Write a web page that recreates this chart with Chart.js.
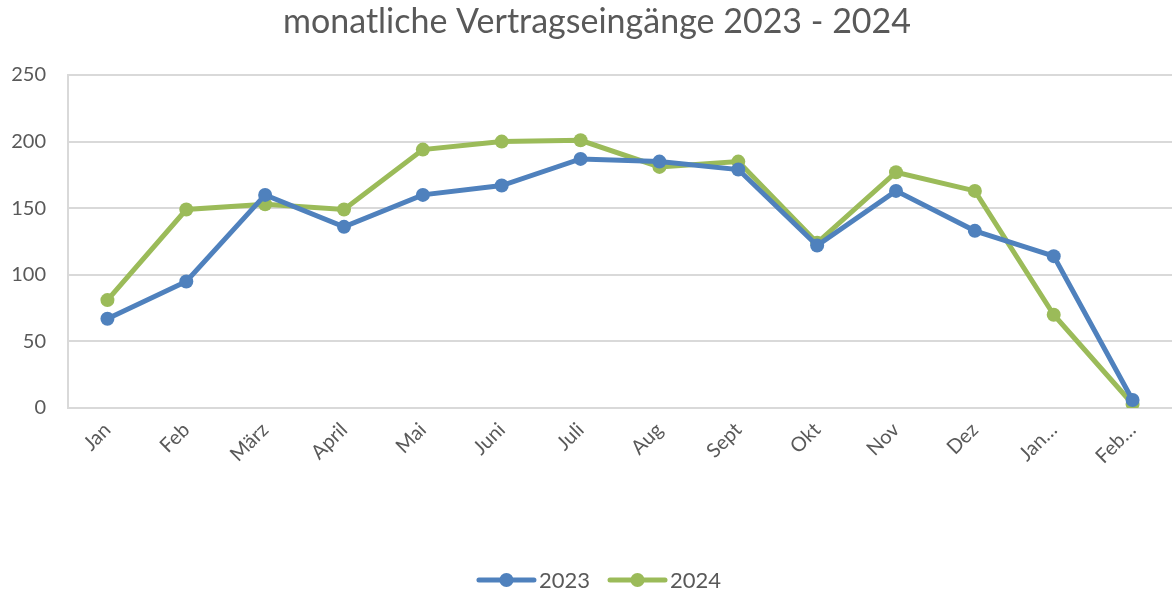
<!DOCTYPE html>
<html>
<head>
<meta charset="utf-8">
<script src="https://cdn.jsdelivr.net/npm/chart.js@4"></script>
<style>
  html, body { margin: 0; padding: 0; background: #fff; }
  #wrap { width: 1174px; height: 591px; }
</style>
</head>
<body>
<div id="wrap"><canvas id="chart"></canvas></div>
<script>
const titel = "monatliche Vertragseingänge 2023 - 2024";
const monate = ["Jan", "Feb", "März", "April", "Mai", "Juni", "Juli", "Aug", "Sept", "Okt", "Nov", "Dez", "Jan…", "Feb…"];
const werte2023 = [67, 95, 160, 136, 160, 167, 187, 185, 179, 122, 163, 133, 114, 6];
const werte2024 = [81, 149, 153, 149, 194, 200, 201, 181, 185, 124, 177, 163, 70, 3];
const yTicks = [0, 50, 100, 150, 200, 250];

const BLAU = "#4f81bd";
const GRUEN = "#9bbb59";
const GRAU = "#d9d9d9";
const TEXT = "#595959";
const FONT = "Lato, 'Open Sans', sans-serif";

// Titel und Legende wie in Excel (Legende: Linie mit Punkt in der Mitte)
const excelPlugin = {
  id: "excelDeko",
  afterDraw(chart) {
    const ctx = chart.ctx;
    ctx.save();
    ctx.fillStyle = TEXT;
    ctx.font = "34px " + FONT;
    ctx.textAlign = "center";
    ctx.textBaseline = "middle";
    ctx.fillText(titel, 597, 22);

    const y = 580;
    const eintraege = chart.data.datasets.map((ds) => ({ label: ds.label, farbe: ds.borderColor }));
    ctx.font = "22px " + FONT;
    const linie = 55, abstand = 5, luecke = 20;
    let gesamt = 0;
    eintraege.forEach((e, i) => {
      gesamt += linie + abstand + ctx.measureText(e.label).width + (i < eintraege.length - 1 ? luecke : 0);
    });
    let x = 600 - gesamt / 2;
    eintraege.forEach((e) => {
      ctx.strokeStyle = e.farbe;
      ctx.lineWidth = 5;
      ctx.lineCap = "round";
      ctx.beginPath();
      ctx.moveTo(x, y);
      ctx.lineTo(x + linie, y);
      ctx.stroke();
      ctx.fillStyle = e.farbe;
      ctx.beginPath();
      ctx.arc(x + linie / 2, y, 7, 0, Math.PI * 2);
      ctx.fill();
      x += linie + abstand;
      ctx.fillStyle = TEXT;
      ctx.textAlign = "left";
      ctx.fillText(e.label, x, y + 1);
      x += ctx.measureText(e.label).width + luecke;
    });
    ctx.restore();
  }
};

const ctx = document.getElementById("chart").getContext("2d");
new Chart(ctx, {
  type: "line",
  data: {
    labels: monate,
    datasets: [
      {
        label: "2023",
        data: werte2023,
        borderColor: BLAU,
        backgroundColor: BLAU,
        borderWidth: 5,
        pointRadius: 7,
        pointHoverRadius: 7,
        pointBorderWidth: 0,
        tension: 0,
      },
      {
        label: "2024",
        data: werte2024,
        borderColor: GRUEN,
        backgroundColor: GRUEN,
        borderWidth: 5,
        pointRadius: 7,
        pointHoverRadius: 7,
        pointBorderWidth: 0,
        tension: 0,
      },
    ],
  },
  plugins: [excelPlugin],
  options: {
    responsive: true,
    maintainAspectRatio: false,
    animation: false,
    layout: { autoPadding: false, padding: { left: 0, right: 2, top: 75, bottom: 0 } },
    plugins: {
      legend: { display: false },
      tooltip: { enabled: false },
      title: { display: false },
    },
    scales: {
      x: {
        offset: true,
        grid: { display: false, drawTicks: false },
        border: { display: false },
        ticks: {
          color: TEXT,
          font: { family: FONT, size: 20 },
          maxRotation: 45,
          minRotation: 45,
          padding: 10,
          autoSkip: false,
        },
        afterFit(scale) { scale.height = 183; },
      },
      y: {
        min: 0,
        max: 250,
        afterBuildTicks(scale) { scale.ticks = yTicks.map((v) => ({ value: v })); },
        grid: { color: GRAU, lineWidth: 2, drawTicks: false },
        border: { display: true, color: GRAU, width: 2 },
        ticks: {
          color: TEXT,
          font: { family: FONT, size: 20 },
          padding: 22,
        },
        afterFit(scale) { scale.width = 68; },
      },
    },
  },
});
</script>
</body>
</html>
